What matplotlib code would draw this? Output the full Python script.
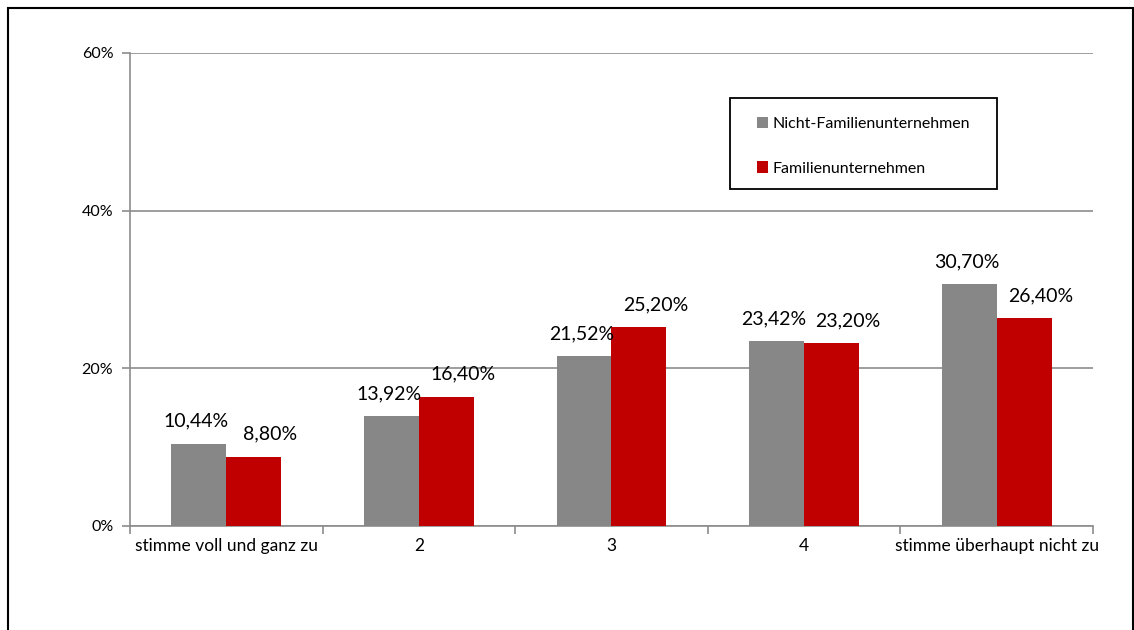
import matplotlib
matplotlib.use('Agg')
import matplotlib.pyplot as plt
from matplotlib.patches import Rectangle
from matplotlib.ticker import FixedLocator
import numpy as np

plt.rcParams['font.family'] = ['Lato', 'DejaVu Sans']

# Daten
kategorien = ['stimme voll und ganz zu', '2', '3', '4', 'stimme überhaupt nicht zu']
nicht_familie = [10.44, 13.92, 21.52, 23.42, 30.70]
familie = [8.80, 16.40, 25.20, 23.20, 26.40]
serien = ['Nicht-Familienunternehmen', 'Familienunternehmen']
y_ticks = [0, 20, 40, 60]

grau = '#878787'
rot = '#C00000'

fig = plt.figure(figsize=(11.34, 6.30), dpi=100)
ax = fig.add_axes([0.1146, 0.1651, 0.8492, 0.7508])

x = np.arange(len(kategorien))
b = 0.285
b1 = ax.bar(x - b / 2, nicht_familie, width=b, color=grau, label=serien[0], zorder=3)
b2 = ax.bar(x + b / 2, familie, width=b, color=rot, label=serien[1], zorder=3)

# Werte über den Balken (Komma als Dezimaltrenner)
def fmt(v):
    return f'{v:.2f}%'.replace('.', ',')

for r, v in zip(b1, nicht_familie):
    ax.annotate(fmt(v), (r.get_x() + r.get_width() / 2, v), xytext=(-2, 10),
                textcoords='offset points', ha='center', va='bottom', fontsize=14)
for r, v in zip(b2, familie):
    ax.annotate(fmt(v), (r.get_x() + r.get_width() / 2, v), xytext=(12, 10),
                textcoords='offset points', ha='center', va='bottom', fontsize=14)

ax.set_xlim(-0.5, len(kategorien) - 0.5)
ax.set_ylim(0, 60)
ax.set_yticks(y_ticks)
ax.set_yticklabels([f'{t}%' for t in y_ticks], fontsize=11.5)
ax.yaxis.grid(True, color='#8c8c8c', linewidth=1.2, zorder=0)
ax.set_axisbelow(True)

ax.set_xticks(x)
ax.set_xticklabels(kategorien, fontsize=12.5)
ax.tick_params(axis='x', which='major', length=0, pad=9)
ax.xaxis.set_minor_locator(FixedLocator(np.arange(len(kategorien) + 1) - 0.5))
ax.tick_params(axis='x', which='minor', length=6, color='#8c8c8c', width=1.2)
ax.tick_params(axis='y', length=6, color='#8c8c8c', width=1.2, pad=6)

for s in ['top', 'right']:
    ax.spines[s].set_visible(False)
for s in ['left', 'bottom']:
    ax.spines[s].set_color('#8c8c8c')
    ax.spines[s].set_linewidth(1.2)

# Legende ohne eigenen Rahmen, Rahmen separat
leg = fig.legend(handles=[b1, b2], loc='upper left', bbox_to_anchor=(0.6675, 0.8145),
                 fontsize=11.5, frameon=False, handlelength=0.7,
                 handleheight=0.7, handletextpad=0.3, labelspacing=1.9,
                 borderpad=0, borderaxespad=0)
fig.patches.append(Rectangle((730 / 1134, 1 - 189 / 630), 267 / 1134, 91 / 630,
                             transform=fig.transFigure, fill=False,
                             edgecolor='black', linewidth=1.3))

# äußerer Rahmen
fig.patches.append(Rectangle((0.007, -0.01), 0.992, 0.998, transform=fig.transFigure,
                             fill=False, edgecolor='black', linewidth=1.5))

fig.savefig('out.png', dpi=100)
